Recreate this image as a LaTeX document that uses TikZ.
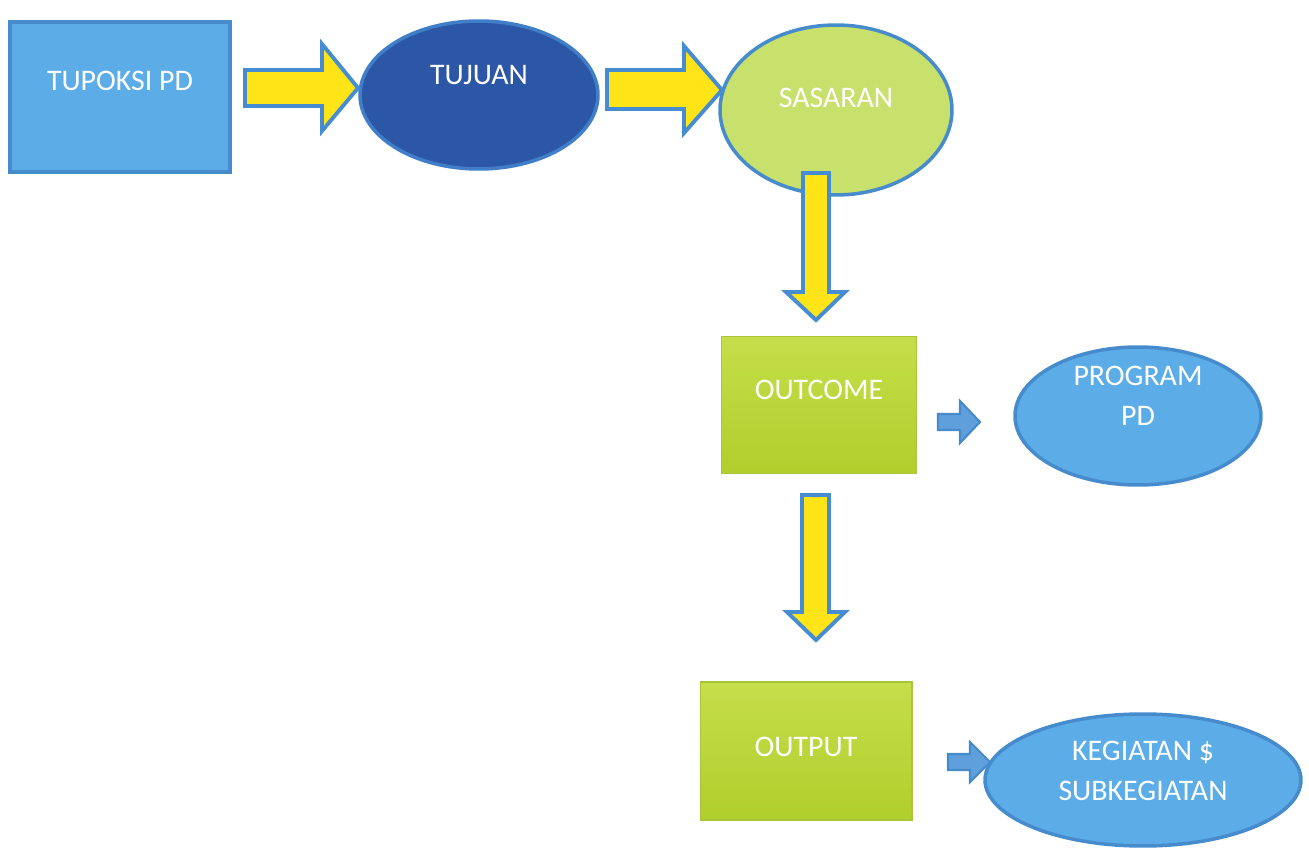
\documentclass[tikz,border=0pt]{standalone}
\usepackage{fontspec}
\setmainfont{Carlito}
\usetikzlibrary{shapes.geometric}
\definecolor{lblue}{RGB}{92,172,232}
\definecolor{lblueb}{RGB}{70,140,205}
\definecolor{dblue}{RGB}{44,86,166}
\definecolor{dblueb}{RGB}{64,126,200}
\definecolor{lgreen}{RGB}{200,224,108}
\definecolor{gtop}{RGB}{198,222,74}
\definecolor{gbot}{RGB}{176,206,44}
\definecolor{gedge}{RGB}{170,196,60}
\definecolor{yarr}{RGB}{255,228,24}
\definecolor{arrb}{RGB}{70,140,210}
\definecolor{sarr}{RGB}{95,160,220}
\tikzset{
  lbl/.style={text=white,font=\fontsize{17}{23}\selectfont,align=center},
  bluebox/.style={draw=lblueb,line width=2pt,fill=lblue,rectangle},
  greenbox/.style={draw=gedge,line width=0.6pt,rectangle,top color=gtop,bottom color=gbot},
  ell/.style={ellipse,inner sep=0pt,line width=2pt},
  yarrow/.style={fill=yarr,draw=arrb,line width=2.2pt,line join=miter},
  sarrow/.style={fill=sarr,draw=lblueb,line width=1.2pt,line join=miter}
}
\begin{document}
\begin{tikzpicture}[x=0.02cm,y=-0.02cm]
\useasboundingbox[fill=white] (0,0) rectangle (1309,851);
% nodes
\node[bluebox,minimum width=4.4cm,minimum height=3cm,
  label={[lbl,yshift=0.32cm]center:TUPOKSI PD}] (tupoksi) at (120,97) {};
\node[ell,draw=dblueb,fill=dblue,minimum width=4.76cm,minimum height=2.96cm,
  label={[lbl,yshift=0.4cm]center:TUJUAN}] (tujuan) at (479,95) {};
\node[ell,draw=lblueb,fill=lgreen,minimum width=4.64cm,minimum height=3.4cm,
  label={[lbl,yshift=0.24cm]center:SASARAN}] (sasaran) at (836,110) {};
\node[greenbox,minimum width=3.9cm,minimum height=2.74cm,
  label={[lbl,yshift=0.3cm]center:OUTCOME}] (outcome) at (819,405) {};
\node[ell,draw=lblueb,fill=lblue,minimum width=4.92cm,minimum height=2.76cm,
  label={[lbl,yshift=0.4cm]center:PROGRAM\\PD}] (program) at (1138,416) {};
\node[greenbox,minimum width=4.24cm,minimum height=2.76cm,
  label={[lbl,yshift=0.08cm]center:OUTPUT}] (output) at (806,751) {};
\node[ell,draw=lblueb,fill=lblue,minimum width=6.32cm,minimum height=2.64cm,
  label={[lbl,yshift=0.18cm]center:KEGIATAN \$\\SUBKEGIATAN}] (kegiatan) at (1143,780) {};
% block arrows
\draw[yarrow] (245,70) -- (322,70) -- (322,44) -- (358,88) -- (322,131) -- (322,106) -- (245,106) -- cycle;
\draw[yarrow] (607,70) -- (684,70) -- (684,46) -- (722,90) -- (684,133) -- (684,109) -- (607,109) -- cycle;
\draw[yarrow] (803,173) -- (829,173) -- (829,292) -- (845,292) -- (816,320) -- (786,292) -- (803,292) -- cycle;
\draw[yarrow] (802,495) -- (829,495) -- (829,612) -- (845,612) -- (816,640) -- (787,612) -- (802,612) -- cycle;
\draw[sarrow] (938,414) -- (960,414) -- (960,401) -- (980,422) -- (960,443) -- (960,430) -- (938,430) -- cycle;
\draw[sarrow] (948,754) -- (970,754) -- (970,742) -- (990,762) -- (970,782) -- (970,770) -- (948,770) -- cycle;
\end{tikzpicture}
\end{document}
